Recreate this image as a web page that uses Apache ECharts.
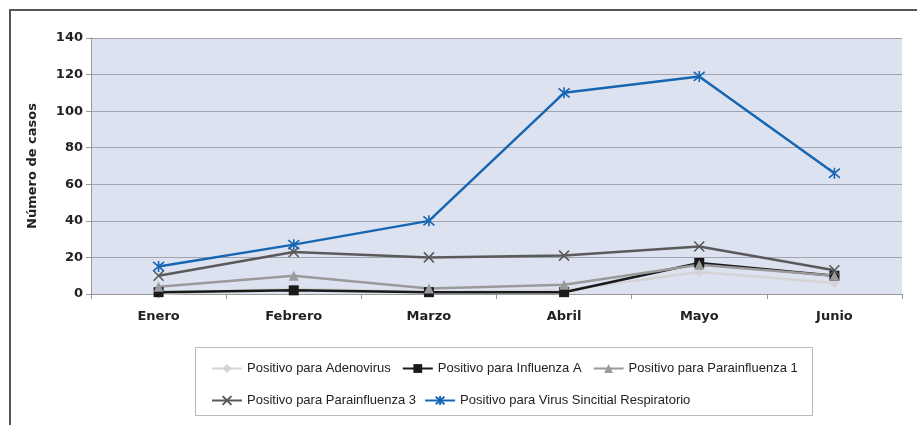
<!DOCTYPE html>
<html>
<head>
<meta charset="utf-8">
<script src="https://cdn.jsdelivr.net/npm/echarts@6/dist/echarts.min.js"></script>
<style>
  html, body { margin: 0; padding: 0; background: #fff; }
  #chart { width: 917px; height: 425px; }
</style>
</head>
<body>
<div id="chart"></div>
<script>
// datos
const meses = ['Enero', 'Febrero', 'Marzo', 'Abril', 'Mayo', 'Junio']
const adenovirus = [0, 3, 1, 2, 12, 6]
const influenzaA = [1, 2, 1, 1, 17, 10]
const parainfluenza1 = [4, 10, 3, 5, 16, 10]
const parainfluenza3 = [10, 23, 20, 21, 26, 13]
const vsr = [15, 27, 40, 110, 119, 66]
const nombres = [
  'Positivo para Adenovirus',
  'Positivo para Influenza A',
  'Positivo para Parainfluenza 1',
  'Positivo para Parainfluenza 3',
  'Positivo para Virus Sincitial Respiratorio'
]

const chart = echarts.init(document.getElementById('chart'))

const boldFont = { fontFamily: 'DejaVu Sans', fontWeight: 'bold', fontSize: 13, color: '#222' }
const legendText = { fontFamily: 'Liberation Sans', fontSize: 13, color: '#222' }

function linea(name, data, color, symbol, size, stroke) {
  return {
    name: name,
    type: 'line',
    data: data,
    symbol: symbol,
    symbolSize: size,
    showAllSymbol: true,
    lineStyle: { color: color, width: 2.5 },
    itemStyle: stroke
      ? { color: color, borderColor: color, borderWidth: 1.6 }
      : { color: color, borderWidth: 0 },
    emphasis: { disabled: true }
  }
}

const xPath = 'path://M0,0L10,10M10,0L0,10'
const starPath = 'path://M0,0L10,10M10,0L0,10M5,-1L5,11'

chart.setOption({
  animation: false,
  graphic: [
    {
      type: 'polyline',
      shape: { points: [[10, 425], [10, 10], [917, 10]] },
      style: { stroke: '#555', lineWidth: 2, fill: null }
    },
    {
      type: 'rect',
      shape: { x: 195.5, y: 347.5, width: 617, height: 68 },
      style: { stroke: '#bbb', lineWidth: 1, fill: null }
    }
  ],
  grid: {
    left: 91,
    right: 15,
    top: 38,
    bottom: 131,
    show: true,
    backgroundColor: '#dce2f0',
    borderWidth: 0
  },
  legend: [
    {
      data: nombres.slice(0, 3),
      left: 206,
      top: 357,
      itemWidth: 30,
      itemHeight: 11,
      itemGap: 11,
      textStyle: legendText,
      selectedMode: false
    },
    {
      data: nombres.slice(3),
      left: 206,
      top: 389,
      itemWidth: 30,
      itemHeight: 11,
      itemGap: 8,
      textStyle: legendText,
      selectedMode: false
    }
  ],
  xAxis: {
    type: 'category',
    data: meses,
    boundaryGap: true,
    axisLine: { lineStyle: { color: '#999', width: 1 } },
    axisTick: { show: true, length: 5, lineStyle: { color: '#999' } },
    axisLabel: Object.assign({ margin: 16 }, boldFont),
    splitLine: { show: false }
  },
  yAxis: {
    type: 'value',
    min: 0,
    max: 140,
    interval: 20,
    name: 'Número de casos',
    nameLocation: 'middle',
    nameGap: 52,
    nameTextStyle: boldFont,
    axisLine: { show: true, lineStyle: { color: '#999', width: 1 } },
    axisTick: { show: true, length: 5, lineStyle: { color: '#999' } },
    axisLabel: Object.assign({ margin: 8 }, boldFont),
    splitLine: { lineStyle: { color: '#a2a4ae', width: 1 } }
  },
  series: [
    linea(nombres[0], adenovirus, '#d4d4d4', 'diamond', 10, false),
    linea(nombres[1], influenzaA, '#1a1a1a', 'rect', 10, false),
    linea(nombres[2], parainfluenza1, '#9a9a9a', 'triangle', 10, false),
    linea(nombres[3], parainfluenza3, '#5a5a5a', xPath, 10, true),
    linea(nombres[4], vsr, '#1766b3', starPath, 11, true)
  ]
})
</script>
</body>
</html>
